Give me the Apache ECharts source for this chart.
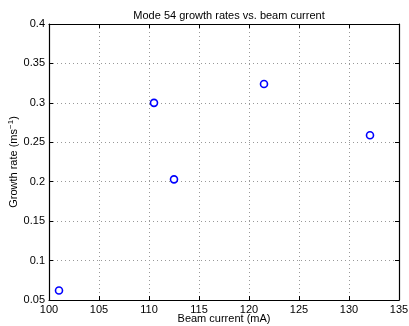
<!DOCTYPE html>
<html><head><meta charset="utf-8">
<script src="https://cdn.jsdelivr.net/npm/echarts@6/dist/echarts.min.js"></script>
<style>html,body{margin:0;padding:0;background:#fff}#c{width:409px;height:326px}</style>
</head><body><div id="c"></div>
<script>
const beamCurrent = [101.0, 110.5, 112.5, 121.5, 132.1];
const growthRate = [0.062, 0.300, 0.203, 0.324, 0.259];
const xTicks = [100, 105, 110, 115, 120, 125, 130, 135];
const yTicks = [0.05, 0.1, 0.15, 0.2, 0.25, 0.3, 0.35, 0.4];

const font = 'Liberation Sans, Arial, sans-serif';
const chart = echarts.init(document.getElementById('c'), null, {renderer: 'canvas'});
const axisCommon = {
  axisLine: {show: true, onZero: false, lineStyle: {color: '#000', width: 1.2}},
  axisTick: {show: true, inside: true, length: 4, lineStyle: {color: '#000'}},
};
chart.setOption({
  animation: false,
  title: {text: 'Mode 54 growth rates vs. beam current', left: 224, textAlign: 'center', top: 5,
    textStyle: {fontFamily: font, fontSize: 11, fontWeight: 'normal', color: '#000'}},
  grid: {left: 49, right: 10, top: 24, bottom: 26, containLabel: false, outerBoundsMode: 'none'},
  xAxis: [{
    type: 'value', min: xTicks[0], max: xTicks[xTicks.length - 1], interval: 5,
    ...axisCommon,
    axisLabel: {fontFamily: font, fontSize: 11, color: '#000', margin: 4},
    splitLine: {show: true, lineStyle: {color: '#999', type: [1, 3], width: 1}},
    name: 'Beam current (mA)', nameLocation: 'middle', nameGap: 13, nameMoveOverlap: false,
    nameTextStyle: {fontFamily: font, fontSize: 11, color: '#000'}
  }, {
    type: 'value', position: 'top', min: xTicks[0], max: xTicks[xTicks.length - 1], interval: 5,
    ...axisCommon, axisLabel: {show: false}, splitLine: {show: false}
  }],
  yAxis: [{
    type: 'value', min: yTicks[0], max: yTicks[yTicks.length - 1], interval: 0.05,
    ...axisCommon,
    axisLabel: {fontFamily: font, fontSize: 11, color: '#000', margin: 4,
      formatter: v => String(Math.round(v * 100) / 100)},
    splitLine: {show: true, lineStyle: {color: '#999', type: [1, 3], width: 1}},
    name: '{a|Growth rate (ms}{s|−1}{a|)}', nameLocation: 'middle', nameGap: 28, nameRotate: 90,
    nameMoveOverlap: false,
    nameTextStyle: {fontFamily: font, fontSize: 11, color: '#000',
      rich: {a: {fontFamily: font, fontSize: 11, color: '#000'},
             s: {fontFamily: font, fontSize: 8, color: '#000', verticalAlign: 'top', padding: [0, 0, 6, 0]}}}
  }, {
    type: 'value', position: 'right', min: yTicks[0], max: yTicks[yTicks.length - 1], interval: 0.05,
    ...axisCommon, axisLabel: {show: false}, splitLine: {show: false}
  }],
  series: [{
    type: 'scatter',
    data: beamCurrent.map((x, i) => [x, growthRate[i]]),
    symbol: 'circle', symbolSize: 7,
    itemStyle: {color: '#fff', borderColor: '#0000ff', borderWidth: 1.6, opacity: 1}
  }]
});
</script></body></html>
